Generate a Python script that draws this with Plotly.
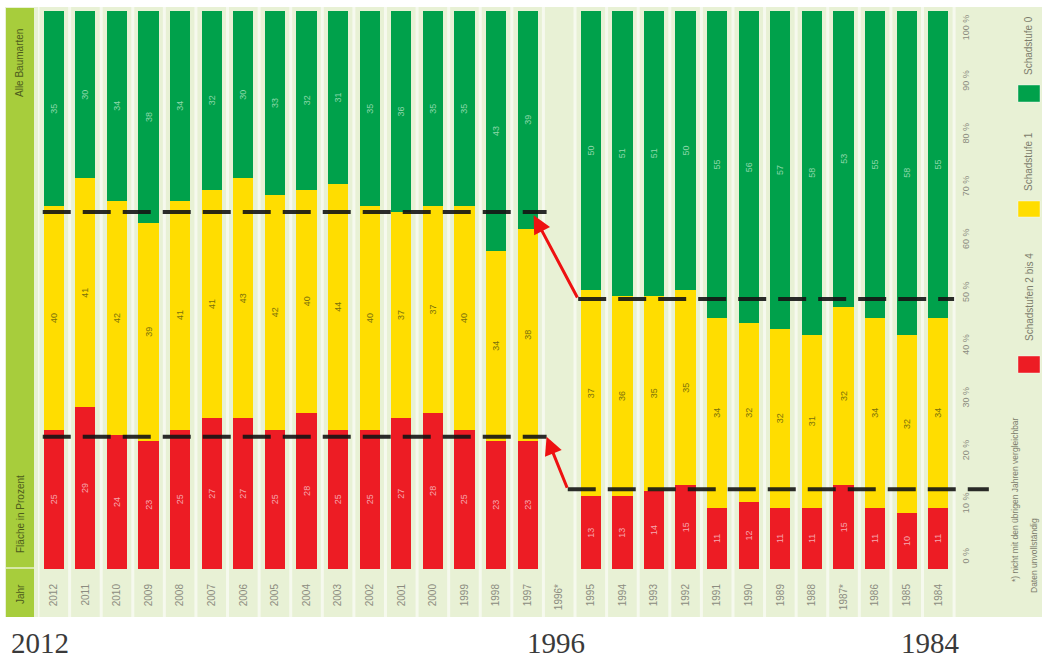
import plotly.graph_objects as go

# ---------------- data ----------------
years = ["2012", "2011", "2010", "2009", "2008", "2007", "2006", "2005", "2004",
         "2003", "2002", "2001", "2000", "1999", "1998", "1997", "1996*",
         "1995", "1994", "1993", "1992", "1991", "1990", "1989", "1988",
         "1987*", "1986", "1985", "1984"]
stufe_2_4 = [25, 29, 24, 23, 25, 27, 27, 25, 28, 25, 25, 27, 28, 25, 23, 23, None,
             13, 13, 14, 15, 11, 12, 11, 11, 15, 11, 10, 11]
stufe_1 = [40, 41, 42, 39, 41, 41, 43, 42, 40, 44, 40, 37, 37, 40, 34, 38, None,
           37, 36, 35, 35, 34, 32, 32, 31, 32, 34, 32, 34]
stufe_0 = [35, 30, 34, 38, 34, 32, 30, 33, 32, 31, 35, 36, 35, 35, 43, 39, None,
           50, 51, 51, 50, 55, 56, 57, 58, 53, 55, 58, 55]
ref_left = [64.0, 23.7]     # Linien 2012-1997 (oben, unten)
ref_right = [48.4, 14.3]    # Linien 1995-1984 (oben, unten)
pct_ticks = [0, 10, 20, 30, 40, 50, 60, 70, 80, 90, 100]
pct_labels = [f"{v} %" for v in pct_ticks]
big_years = ["2012", "1996", "1984"]
legend_names = ["Schadstufe 0", "Schadstufe 1", "Schadstufen 2 bis 4"]

# ---------------- geometry ----------------
W, H = 1042, 660
ML, MR, MT, MB = 38, 50, 11, 91
PW = W - ML - MR
PH = H - MT - MB
XMIN, XMAX = -0.5, 29.7


def px_x(p):
    return (p - ML) / PW


def px_y(p):
    return (MT + PH - p) / PH


GREEN, YELLOW, RED = "#00a14b", "#ffdd00", "#ed1c24"
BOX = "#e8f1d5"
SEP = "#f6f9ee"
STRIP = "#a7cd3c"
FONT = "Liberation Sans"

idx = list(range(len(years)))
i1996 = years.index("1996*")
left_idx = idx[:i1996]
right_idx = idx[i1996 + 1:]

fig = go.Figure()


def seg_text(vals):
    return [("" if v is None else str(v)) for v in vals]


for vals, col, tcol, name in [
    (stufe_2_4, RED, "#f6a9b0", legend_names[2]),
    (stufe_1, YELLOW, "#7a710c", legend_names[1]),
    (stufe_0, GREEN, "#8fd8aa", legend_names[0]),
]:
    fig.add_trace(go.Bar(
        x=idx, y=vals, name=name, marker=dict(color=col, line=dict(width=0)),
        width=0.64, text=seg_text(vals), textposition="inside",
        insidetextanchor="middle", textangle=-90,
        textfont=dict(family=FONT, size=9, color=tcol),
        hoverinfo="skip", showlegend=False, cliponaxis=False,
    ))

# dashed reference lines
dash_style = dict(color="rgba(20,20,20,0.9)", width=4, dash="28px,12px")
l0, l1 = left_idx[0], left_idx[-1]
r0, r1 = right_idx[0], right_idx[-1]
left_ext = (l0 - 0.35, l1 + 0.6)
right_ext = [(r0 - 0.4, r1 + 0.5), (r0 - 0.73, r1 + 1.6)]
for k, lv in enumerate(ref_left):
    fig.add_trace(go.Scatter(x=list(left_ext), y=[lv, lv], mode="lines",
                             line=dash_style, hoverinfo="skip", showlegend=False))
for k, rv in enumerate(ref_right):
    fig.add_trace(go.Scatter(x=list(right_ext[k]), y=[rv, rv], mode="lines",
                             line=dash_style, hoverinfo="skip", showlegend=False))

# invisible trace to anchor the percent axis
fig.add_trace(go.Scatter(x=[0], y=[0], yaxis="y2", mode="markers",
                         marker=dict(opacity=0), hoverinfo="skip", showlegend=False))

shapes = []
# chart box
shapes.append(dict(type="rect", xref="paper", yref="paper",
                   x0=px_x(5), x1=px_x(W), y0=px_y(617), y1=px_y(7),
                   fillcolor=BOX, line=dict(width=0), layer="below"))
# column separators
for i in range(-1, len(years)):
    shapes.append(dict(type="line", xref="x", yref="paper",
                       x0=i + 0.5, x1=i + 0.5, y0=px_y(617), y1=px_y(7),
                       line=dict(color=SEP, width=3), layer="below"))
# left strip
shapes.append(dict(type="rect", xref="paper", yref="paper",
                   x0=px_x(6), x1=px_x(34), y0=px_y(617), y1=px_y(8),
                   fillcolor=STRIP, line=dict(width=0), layer="below"))
shapes.append(dict(type="line", xref="paper", yref="paper",
                   x0=px_x(6), x1=px_x(34), y0=px_y(568), y1=px_y(568),
                   line=dict(color="#d7e8a8", width=2), layer="below"))
# legend swatches
for col, (ya, yb) in zip([GREEN, YELLOW, RED], [(85, 102), (201, 217), (356, 373)]):
    shapes.append(dict(type="rect", xref="paper", yref="paper",
                       x0=px_x(1018), x1=px_x(1040), y0=px_y(yb), y1=px_y(ya),
                       fillcolor=col, line=dict(color="rgba(255,255,255,0.4)", width=1)))

annotations = []


def label(text, xp, yp, size, color, family=FONT, angle=-90, **kw):
    d = dict(text=text, xref="paper", yref="paper", x=px_x(xp), y=px_y(yp),
             xanchor="center", yanchor="middle", textangle=angle,
             showarrow=False, font=dict(family=family, size=size, color=color))
    d.update(kw)
    return d


annotations.append(label("Alle Baumarten", 20, 63, 10, "#4d5c1c"))
annotations.append(label("Fläche in Prozent", 20, 514, 10, "#4d5c1c"))
annotations.append(label("Jahr", 20, 594, 10, "#4d5c1c"))
# legend texts
for name, yc in zip(legend_names, [46, 162, 297]):
    annotations.append(label(name, 1029, yc, 10, "#7d7d6c"))
annotations.append(label("*) nicht mit den übrigen Jahren vergleichbar",
                         1015, 500, 8.5, "#7d7d6c"))
annotations.append(label("Daten unvollständig", 1034, 556, 8.5, "#7d7d6c"))
# red arrows (right-group levels -> left-group levels)
arrow_specs = [
    ((l1 + 0.19, ref_left[0] - 0.6), (right_ext[0][0], ref_right[0])),
    ((l1 + 0.6, ref_left[1]), (right_ext[1][0], ref_right[1])),
]
for (hx, hy), (tx, ty) in arrow_specs:
    annotations.append(dict(x=hx, y=hy, ax=tx, ay=ty, xref="x", yref="y",
                            axref="x", ayref="y", text="", showarrow=True,
                            arrowhead=2, arrowsize=1.2, arrowwidth=3,
                            arrowcolor="#ee1111"))
# big year labels below
for txt, xc in zip(big_years, [40, 556, 930]):
    annotations.append(label(txt, xc, 643, 29, "#3a3a3a",
                             family="Liberation Serif", angle=0))

fig.update_layout(
    width=W, height=H,
    margin=dict(l=ML, r=MR, t=MT, b=MB, pad=0),
    paper_bgcolor="white", plot_bgcolor="rgba(0,0,0,0)",
    barmode="stack", bargap=0.36,
    showlegend=False,
    shapes=shapes, annotations=annotations,
    xaxis=dict(range=[XMIN, XMAX], tickmode="array", tickvals=idx, ticktext=years,
               tickangle=-90, ticks="outside", ticklen=10,
               tickcolor="rgba(0,0,0,0)", showgrid=False, zeroline=False,
               showline=False, fixedrange=True,
               tickfont=dict(family=FONT, size=10, color="#8c8c80")),
    yaxis=dict(range=[0, 100], showticklabels=False, showgrid=False,
               zeroline=False, showline=False, ticks=""),
    yaxis2=dict(range=[-2.27, 103.4], overlaying="y", anchor="free",
                position=px_x(955), side="right", tickmode="array",
                tickvals=pct_ticks, ticktext=pct_labels, tickangle=-90,
                ticks="outside", ticklen=2, tickcolor="rgba(0,0,0,0)",
                showgrid=False, zeroline=False, showline=False,
                tickfont=dict(family=FONT, size=9, color="#8c8c80")),
)

fig.write_html("out.html", config={"displayModeBar": False},
               post_script="document.body.style.margin='0';document.body.style.overflow='hidden';")
